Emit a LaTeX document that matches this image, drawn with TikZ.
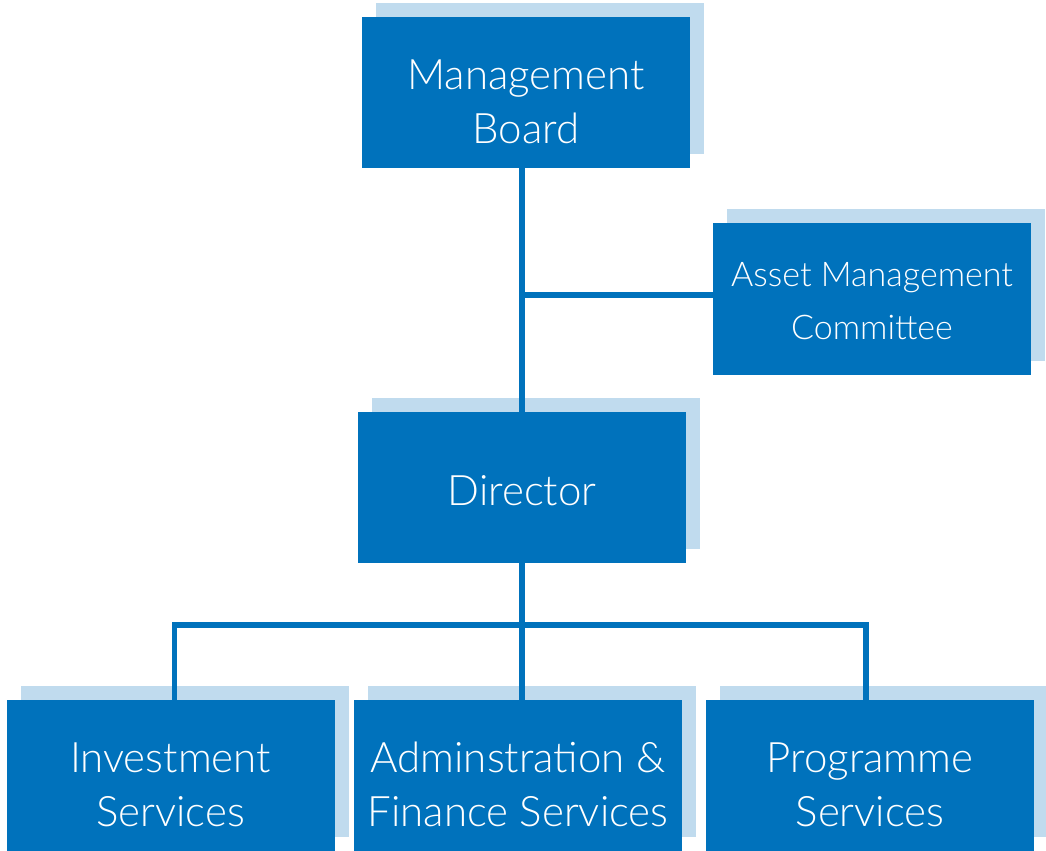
\documentclass[tikz,border=0pt]{standalone}
\usepackage{fontspec}
\setmainfont{Lato Light}
\usetikzlibrary{shadows}
\definecolor{unitblue}{HTML}{0072BC}
\definecolor{shadowblue}{HTML}{C0DBEE}
\tikzset{
	unitbox/.style={
			fill=unitblue, text=white, align=center, inner sep=0pt,
			minimum width=164pt, minimum height=75.5pt,
			font=\fontsize{21}{27}\selectfont,
			text height=50.5pt, text depth=0pt,
			general shadow={fill=shadowblue, shadow xshift=7pt, shadow yshift=7pt}
		},
	onelinebox/.style={unitbox, text height=17.5pt},
	smallbox/.style={unitbox, minimum width=159pt, minimum height=76pt,
			font=\fontsize{17}{26.5}\selectfont, text height=40pt},
	link/.style={draw=unitblue, line width=2.8pt}
}

\begin{document}
\begin{tikzpicture}[x=0.5pt, y=-0.5pt]
			\useasboundingbox (0,0) rectangle (1046,851);

			\node [unitbox] (board) at (526,92.5) {Management\\Board};
			\node [smallbox] (amc) at (872,299) {Asset Management\\Committee};
			\node [onelinebox] (director) at (522,487.5) {Director};
			\node [unitbox] (invest) at (170.5,775.5) {Investment\\Services};
			\node [unitbox] (admin) at (518,775.5) {Adminstration \&\\Finance Services};
			\node [unitbox] (prog) at (870,775.5) {Programme\\Services};

			\coordinate (bus) at (522,625);

			\draw [link] (director.north) -- (director.north |- board.south);
			\draw [link] ([yshift=2pt]director.north |- amc.west) -- ([yshift=2pt]amc.west);
			\draw [link] (director.south) -- (bus);
			\draw [link] (bus) -- (bus |- admin.north);
			\draw [link] ([xshift=2pt]invest.north) |- (bus) -| ([xshift=-2pt]prog.north);
		\end{tikzpicture}
\end{document}
